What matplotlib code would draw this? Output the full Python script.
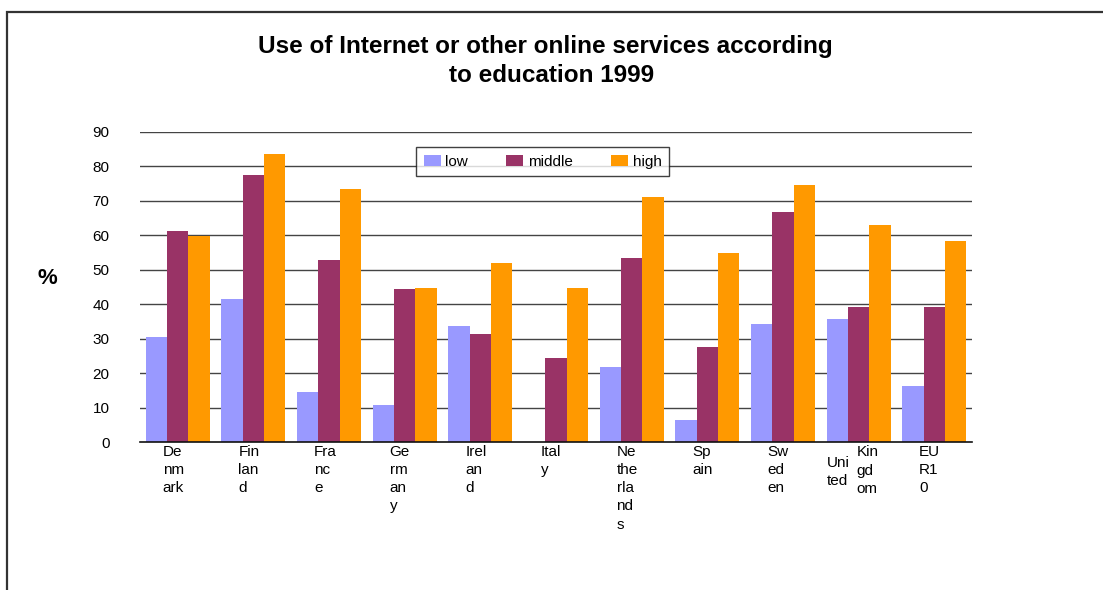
import numpy as np
import matplotlib
matplotlib.use("Agg")
import matplotlib.pyplot as plt
from matplotlib.patches import Rectangle

# Share of people using the Internet or other online services, by education level (%)
countries = ["Denmark", "Finland", "France", "Germany", "Ireland", "Italy",
             "Netherlands", "Spain", "Sweden", "United Kingdom", "EUR10"]
low = [30.5, 41.5, 14.6, 10.8, 33.7, np.nan, 21.8, 6.5, 34.3, 35.8, 16.3]
middle = [61.2, 77.5, 52.8, 44.4, 31.4, 24.5, 53.4, 27.6, 66.7, 39.2, 39.2]
high = [59.8, 83.5, 73.4, 44.7, 52.0, 44.7, 71.1, 54.8, 74.6, 63.0, 58.4]
series_names = ["low", "middle", "high"]
y_ticks = [0, 10, 20, 30, 40, 50, 60, 70, 80, 90]

# Category labels as wrapped in the narrow column slots
wrapped_labels = [["De\nnm\nark"], ["Fin\nlan\nd"], ["Fra\nnc\ne"], ["Ge\nrm\nan\ny"],
                  ["Irel\nan\nd"], ["Ital\ny"], ["Ne\nthe\nrla\nnd\ns"], ["Sp\nain"],
                  ["Sw\ned\nen"], ["Uni\nted", "Kin\ngd\nom"], ["EU\nR1\n0"]]

colors = ["#9999FF", "#993366", "#FF9900"]
FONT = "Liberation Sans"
FS = 11

W, H = 1103, 590
fig = plt.figure(figsize=(W / 100, H / 100), dpi=100)
fig.patch.set_facecolor("white")

# Outer chart frame (only top and left edges fall inside the canvas)
fig.patches.append(Rectangle((7 / W, -0.1), 1.2, 1.1 - 12 / H,
                             transform=fig.transFigure, fill=False,
                             edgecolor="#333333", linewidth=1.6))

left, right = 140 / W, 972 / W
bottom, top = 1 - 442.3 / H, 1 - 131.7 / H
ax = fig.add_axes([left, bottom, right - left, top - bottom])

x = np.arange(len(countries))
bw = 0.282
for k, (vals, c, name) in enumerate(zip([low, middle, high], colors, series_names)):
    ax.bar(x + (k - 1) * bw, vals, width=bw, color=c, label=name, zorder=2,
           linewidth=0)

ax.set_xlim(-0.5, len(countries) - 0.5)
ax.set_ylim(0, 90)
ax.set_yticks(y_ticks)
ax.set_yticklabels([str(v) for v in y_ticks], fontsize=FS, family=FONT)
ax.tick_params(axis="y", length=0, pad=22)
ax.set_xticks([])
for s in ["top", "right", "left"]:
    ax.spines[s].set_visible(False)
ax.spines["bottom"].set_color("#111111")
ax.spines["bottom"].set_linewidth(1.2)
ax.spines["bottom"].set_zorder(3)
for v in y_ticks[1:]:
    ax.axhline(v, color="#444444", linewidth=1.0, zorder=1)

# Category labels below the axis
xt = ax.get_xaxis_transform()
LS = 1.38
for i, pieces in enumerate(wrapped_labels):
    if len(pieces) == 1:
        ax.text(i - 0.2, -0.008, pieces[0], transform=xt, ha="left", va="top",
                fontsize=FS, family=FONT, linespacing=LS)
    else:
        ax.text(i - 0.42, -0.045, pieces[0], transform=xt, ha="left", va="top",
                fontsize=FS, family=FONT, linespacing=LS)
        ax.text(i - 0.03, -0.01, pieces[1], transform=xt, ha="left", va="top",
                fontsize=FS, family=FONT, linespacing=LS)

leg = ax.legend(loc="upper left", bbox_to_anchor=(0.332, 0.848, 0.304, 0.103),
                mode="expand", ncol=3, frameon=True, fancybox=False, shadow=False,
                prop={"family": FONT, "size": FS}, handlelength=1.1,
                handleheight=0.75, handletextpad=0.3, columnspacing=1.0,
                borderpad=0.5, borderaxespad=0)
leg.get_frame().set_edgecolor("#111111")
leg.get_frame().set_linewidth(1.0)
leg.set_zorder(5)

fig.text(47 / W, 1 - 279 / H, "%", ha="center", va="center", fontsize=16,
         fontweight="bold", family=FONT)

fig.text(545 / W, 1 - 46 / H, "Use of Internet or other online services according",
         ha="center", va="center", fontsize=17.5, fontweight="bold", family=FONT)
fig.text(552 / W, 1 - 75 / H, "to education 1999",
         ha="center", va="center", fontsize=17.5, fontweight="bold", family=FONT)

fig.savefig("out.png", dpi=100, facecolor="white")
